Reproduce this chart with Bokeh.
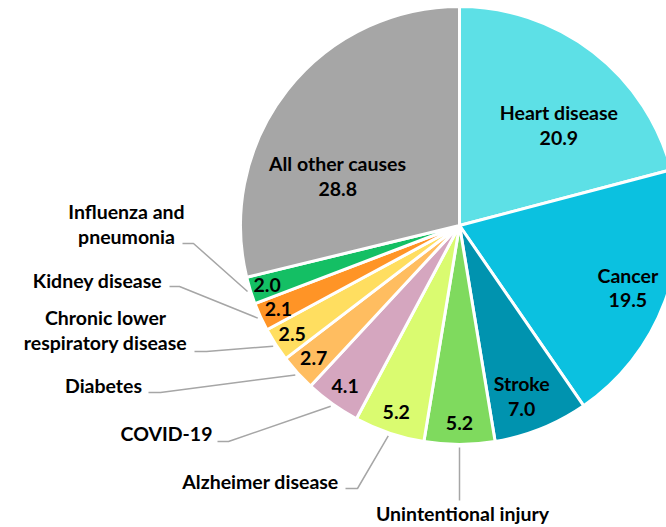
import math
from bokeh.plotting import figure
from bokeh.models import Range1d
from bokeh.core.properties import value
from bokeh.embed import file_html
from bokeh.resources import INLINE

# ---- data ----
causes = ["Heart disease", "Cancer", "Stroke", "Unintentional injury", "Alzheimer disease",
          "COVID-19", "Diabetes", "Chronic lower\nrespiratory disease", "Kidney disease",
          "Influenza and\npneumonia", "All other causes"]
percents = [20.9, 19.5, 7.0, 5.2, 5.2, 4.1, 2.7, 2.5, 2.1, 2.0, 28.8]
colors = ["#5DE0E6", "#0BC1E0", "#0093AF", "#7FDA5E", "#DAFB70", "#D5A6BF",
          "#FFBD60", "#FFDE60", "#FF9426", "#14BF64", "#A6A6A6"]

# ---- layout (page pixels) ----
W, H = 666, 527
CX, CY, R = 459, 225, 219
FONT = "Lato"
FS = "19.5px"

inside_name = [True, True, True, False, False, False, False, False, False, False, True]
lab_angle = [45.3, None, -70.0, None, None, None, None, None, None, None, 158.0]
lab_frac = [0.645, 0.82, 0.83, 0.90, 0.90, 0.90, 0.90, 0.91, 0.91, 0.92, 0.60]

outside = {
    3: dict(x=462, y=[513], elbow=(459, 500), end=(459, 500)),
    4: dict(x=260, y=[481], elbow=(357, 488), end=(345, 488)),
    5: dict(x=166, y=[433], elbow=(228, 441), end=(217, 441)),
    6: dict(x=103, y=[385], elbow=(160, 392), end=(148, 392)),
    7: dict(x=105, y=[317, 342], elbow=(206, 351), end=(194, 351)),
    8: dict(x=97, y=[280], elbow=(179, 286), end=(169, 286)),
    9: dict(x=126, y=[211, 236], elbow=(193, 243), end=(182, 243)),
}


def Y(py):
    return H - py


p = figure(width=W, height=H, output_backend="svg", toolbar_location=None,
           x_range=Range1d(0, W), y_range=Range1d(0, H),
           min_border=0, outline_line_color=None)
p.axis.visible = False
p.grid.visible = False
p.background_fill_color = "white"
p.border_fill_color = "white"

total = sum(percents)
cum = 0.0
starts, ends, mids = [], [], []
for v in percents:
    a0 = 90 - cum / total * 360
    cum += v
    a1 = 90 - cum / total * 360
    starts.append(math.radians(a0))
    ends.append(math.radians(a1))
    mids.append((a0 + a1) / 2)

p.wedge(x=CX, y=Y(CY), radius=R, start_angle=starts, end_angle=ends,
        direction="clock", fill_color=colors, line_color="white", line_width=3)

for i, o in outside.items():
    a = math.radians(mids[i])
    sx = CX + (R + 3) * math.cos(a)
    sy = CY - (R + 3) * math.sin(a)
    xs = [sx, o["elbow"][0], o["end"][0]]
    ys = [Y(sy), Y(o["elbow"][1]), Y(o["end"][1])]
    p.line(xs, ys, line_color="#A6A6A6", line_width=1.5)

tkw = dict(text_font=value(FONT), text_font_style="bold", text_font_size=FS,
           text_color="black", text_align="center", text_baseline="middle")

for i, v in enumerate(percents):
    ang = lab_angle[i] if lab_angle[i] is not None else mids[i]
    a = math.radians(ang)
    lx = CX + lab_frac[i] * R * math.cos(a)
    ly = CY - lab_frac[i] * R * math.sin(a)
    if inside_name[i]:
        p.text(x=[lx], y=[Y(ly - 12.5)], text=[causes[i]], **tkw)
        p.text(x=[lx], y=[Y(ly + 12.5)], text=[f"{v:.1f}"], **tkw)
    else:
        p.text(x=[lx], y=[Y(ly)], text=[f"{v:.1f}"], **tkw)

for i, o in outside.items():
    for ln, yy in zip(causes[i].split("\n"), o["y"]):
        p.text(x=[o["x"]], y=[Y(yy)], text=[ln], **tkw)

open("out.html", "w").write(file_html(p, INLINE))
